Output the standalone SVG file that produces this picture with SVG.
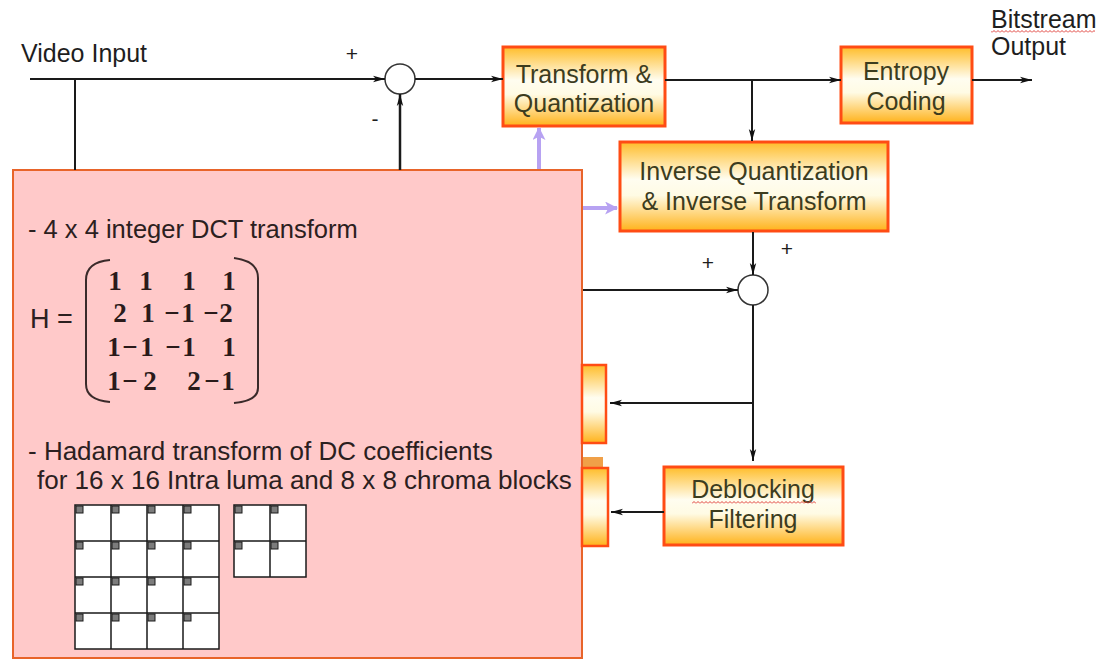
<svg xmlns="http://www.w3.org/2000/svg" width="1113" height="660" viewBox="0 0 1113 660">
<defs>
  <linearGradient id="gv" x1="0" y1="0" x2="0" y2="1">
    <stop offset="0" stop-color="#ffbd2a"/>
    <stop offset="0.42" stop-color="#fffdf0"/>
    <stop offset="0.6" stop-color="#fffbe4"/>
    <stop offset="1" stop-color="#ffb21a"/>
  </linearGradient>
  <marker id="arr" viewBox="0 0 12 8" refX="12" refY="4" markerWidth="12" markerHeight="8" markerUnits="userSpaceOnUse" orient="auto">
    <path d="M0,0.8 L12,4 L0,7.2 L3,4 z" fill="#111"/>
  </marker>
  <marker id="parr" viewBox="0 0 12 12" refX="11" refY="6" markerWidth="13" markerHeight="13" markerUnits="userSpaceOnUse" orient="auto">
    <path d="M0,0 L12,6 L0,12 L3,6 z" fill="#b7a2f2"/>
  </marker>
  <pattern id="wave" x="0" y="0" width="4" height="3" patternUnits="userSpaceOnUse">
    <path d="M0,2.5 L2,0.5 L4,2.5" fill="none" stroke="#e0403a" stroke-width="1"/>
  </pattern>
  <g id="dc"><rect x="1" y="1" width="7" height="7" fill="#7c7c7c" stroke="#1a1a1a" stroke-width="1"/></g>
</defs>
<style>
  .box{fill:url(#gv);stroke:#ff4c14;stroke-width:3}
  .lbl{font-family:"Liberation Sans",Arial,sans-serif;font-size:25px;fill:#3c3c1e;text-anchor:middle}
  .txt{font-family:"Liberation Sans",Arial,sans-serif;font-size:25px;fill:#1e1e1e}
  .sign{font-family:"Liberation Sans",Arial,sans-serif;font-size:21px;fill:#1e1e1e;text-anchor:middle}
  .pt{font-family:"Liberation Sans",Arial,sans-serif;font-size:25.5px;fill:#2b2020}
  .mx{font-family:"Liberation Serif","DejaVu Serif",serif;font-size:27px;font-weight:bold;fill:#2a1a1a;text-anchor:middle}
  .wire{stroke:#1a1a1a;stroke-width:2;fill:none}
  .purple{stroke:#b7a2f2;stroke-width:4;fill:none}
  .sum{fill:#fff;stroke:#333;stroke-width:1.5}
  .grid{fill:#fff;stroke:#1a1a1a;stroke-width:1.5}
  .gl{stroke:#1a1a1a;stroke-width:1.5;fill:none}
</style>
<rect x="0" y="0" width="1113" height="660" fill="#fff"/>

<!-- Transform panel -->
<g id="transform-panel">
  <rect x="13" y="170" width="569" height="488" fill="#ffc9c9" stroke="#e8642a" stroke-width="2"/>
  <text class="pt" x="28" y="238">- 4 x 4 integer DCT transform</text>
  <text class="pt" x="30" y="328" style="font-size:27px">H =</text>
  <path d="M110,260 Q86,262 86,280 V384 Q86,400 110,402" fill="none" stroke="#3a2a2a" stroke-width="2"/>
  <path d="M234,258 Q258,261 258,278 V388 Q258,401 234,403" fill="none" stroke="#3a2a2a" stroke-width="2"/>
  <text class="mx" x="115 146 189 229" y="290">1111</text>
  <text class="mx" x="120 148 172 188 211 226" y="322">21−1−2</text>
  <text class="mx" x="114 130 147 173 189 229" y="356">1−1−11</text>
  <text class="mx" x="114 130 150 194 212 228" y="390">1−22−1</text>
  <text class="pt" x="28" y="460" style="font-size:26px">- Hadamard transform of DC coefficients</text>
  <text class="pt" x="37" y="489" style="font-size:26px">for 16 x 16 Intra luma and 8 x 8 chroma blocks</text>
  <g id="luma-grid">
    <rect class="grid" x="75" y="505" width="144" height="144"/>
    <path class="gl" d="M111,505 V649 M147,505 V649 M183,505 V649 M75,541 H219 M75,577 H219 M75,613 H219"/>
    <use href="#dc" x="75" y="505"/><use href="#dc" x="111" y="505"/><use href="#dc" x="147" y="505"/><use href="#dc" x="183" y="505"/>
    <use href="#dc" x="75" y="541"/><use href="#dc" x="111" y="541"/><use href="#dc" x="147" y="541"/><use href="#dc" x="183" y="541"/>
    <use href="#dc" x="75" y="577"/><use href="#dc" x="111" y="577"/><use href="#dc" x="147" y="577"/><use href="#dc" x="183" y="577"/>
    <use href="#dc" x="75" y="613"/><use href="#dc" x="111" y="613"/><use href="#dc" x="147" y="613"/><use href="#dc" x="183" y="613"/>
  </g>
  <g id="chroma-grid">
    <rect class="grid" x="234" y="505" width="72" height="72"/>
    <path class="gl" d="M270,505 V577 M234,541 H306"/>
    <use href="#dc" x="234" y="505"/><use href="#dc" x="270" y="505"/>
    <use href="#dc" x="234" y="541"/><use href="#dc" x="270" y="541"/>
  </g>
</g>

<g id="input-label">
  <text class="txt" x="21" y="62">Video Input</text>
</g>

<g id="sum1">
  <circle class="sum" cx="400" cy="79" r="15"/>
  <text class="sign" x="352" y="61">+</text>
  <text class="sign" x="375" y="126">-</text>
</g>

<g id="tq">
  <rect class="box" x="503" y="47" width="162" height="79"/>
  <text class="lbl" x="584" y="83">Transform &amp;</text>
  <text class="lbl" x="584" y="112">Quantization</text>
</g>

<g id="entropy">
  <rect class="box" x="841" y="47" width="131" height="76"/>
  <text class="lbl" x="906" y="80">Entropy</text>
  <text class="lbl" x="906" y="110">Coding</text>
</g>

<g id="output-label">
  <text class="txt" x="991" y="28">Bitstream</text>
  <rect x="991" y="30" width="104" height="3" fill="url(#wave)"/>
  <text class="txt" x="991" y="55">Output</text>
</g>

<g id="iqit">
  <rect class="box" x="620" y="142" width="268" height="89"/>
  <text class="lbl" x="754" y="180">Inverse Quantization</text>
  <text class="lbl" x="754" y="210">&amp; Inverse Transform</text>
</g>

<g id="sum2">
  <circle class="sum" cx="753" cy="290" r="15"/>
  <text class="sign" x="708" y="270">+</text>
  <text class="sign" x="787" y="256">+</text>
</g>

<g id="box-a">
  <rect class="box" x="582" y="365" width="24" height="78" style="stroke-width:2.5"/>
</g>

<g id="box-b">
  <rect x="583" y="457" width="20" height="11" fill="#f0a048"/>
  <rect class="box" x="582" y="468" width="26" height="78" style="stroke-width:2.5"/>
</g>

<g id="deblock">
  <rect class="box" x="664" y="467" width="179" height="78"/>
  <text class="lbl" x="753" y="498">Deblocking</text>
  <rect x="692" y="501" width="124" height="3" fill="url(#wave)"/>
  <text class="lbl" x="753" y="528">Filtering</text>
</g>

<g id="connectors">
  <path class="wire" d="M30,79 H385" marker-end="url(#arr)"/>
  <path class="wire" d="M75,79 V170"/>
  <path class="wire" d="M400,170 V94" marker-end="url(#arr)" style="stroke-width:2.5"/>
  <path class="wire" d="M415,79 H503" marker-end="url(#arr)"/>
  <path class="wire" d="M665,80 H841" marker-end="url(#arr)"/>
  <path class="wire" d="M752,80 V141" marker-end="url(#arr)"/>
  <path class="wire" d="M972,80 H1032" marker-end="url(#arr)"/>
  <path class="wire" d="M753,232 V275" marker-end="url(#arr)"/>
  <path class="wire" d="M583,290 H738" marker-end="url(#arr)"/>
  <path class="wire" d="M753,305 V461" marker-end="url(#arr)"/>
  <path class="wire" d="M753,403 H610" marker-end="url(#arr)"/>
  <path class="wire" d="M664,512 H611" marker-end="url(#arr)"/>
  <path class="purple" d="M539,169 V128" marker-end="url(#parr)"/>
  <path class="purple" d="M583,208 H617" marker-end="url(#parr)"/>
</g>
</svg>
